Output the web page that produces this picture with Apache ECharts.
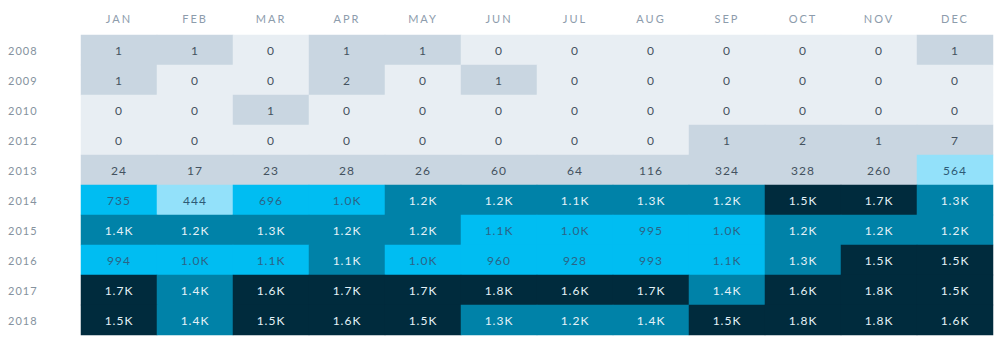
<!DOCTYPE html>
<html>
<head>
<meta charset="utf-8">
<script src="https://cdn.jsdelivr.net/npm/echarts@6/dist/echarts.min.js"></script>
<style>
  html, body { margin: 0; padding: 0; background: #ffffff; }
  #chart { width: 997px; height: 338px; }
  /* tracked lettering for all chart text */
  #chart svg text { letter-spacing: 1px; }
  #chart svg text.month { letter-spacing: 2px; }
</style>
</head>
<body>
<div id="chart"></div>
<script>
// Monthly counts per year
const months = ['JAN', 'FEB', 'MAR', 'APR', 'MAY', 'JUN', 'JUL', 'AUG', 'SEP', 'OCT', 'NOV', 'DEC'];
const years = ['2008', '2009', '2010', '2012', '2013', '2014', '2015', '2016', '2017', '2018'];

const y2008 = [1, 1, 0, 1, 1, 0, 0, 0, 0, 0, 0, 1];
const y2009 = [1, 0, 0, 2, 0, 1, 0, 0, 0, 0, 0, 0];
const y2010 = [0, 0, 1, 0, 0, 0, 0, 0, 0, 0, 0, 0];
const y2012 = [0, 0, 0, 0, 0, 0, 0, 0, 1, 2, 1, 7];
const y2013 = [24, 17, 23, 28, 26, 60, 64, 116, 324, 328, 260, 564];
const y2014 = [735, 444, 696, 1020, 1210, 1190, 1120, 1280, 1200, 1500, 1690, 1300];
const y2015 = [1400, 1180, 1290, 1220, 1190, 1070, 1010, 995, 1030, 1210, 1180, 1220];
const y2016 = [994, 1040, 1080, 1130, 1000, 960, 928, 993, 1060, 1310, 1510, 1520];
const y2017 = [1700, 1420, 1610, 1680, 1720, 1790, 1590, 1710, 1410, 1620, 1780, 1490];
const y2018 = [1480, 1380, 1520, 1580, 1510, 1290, 1210, 1390, 1460, 1810, 1770, 1600];

const rows = [y2008, y2009, y2010, y2012, y2013, y2014, y2015, y2016, y2017, y2018];

// colour bands: [min, max, cell colour, text colour]
const bands = [
  [0, 0, '#e8eef3', '#44525f'],
  [1, 399, '#c9d6e1', '#44525f'],
  [400, 599, '#93e1fa', '#2e5a75'],
  [600, 1099, '#00bdf2', '#2b6487'],
  [1100, 1449, '#0082a8', '#e4f1f7'],
  [1450, 100000, '#002b3d', '#e4f1f7']
];

function bandOf(v) {
  for (const b of bands) if (v >= b[0] && v <= b[1]) return b;
  return bands[bands.length - 1];
}

function fmt(v) {
  return v >= 1000 ? (v / 1000).toFixed(1) + 'K' : String(v);
}

const data = [];
rows.forEach((row, yi) => {
  row.forEach((v, xi) => {
    data.push({ value: [xi, yi, v], label: { color: bandOf(v)[3] } });
  });
});

const chart = echarts.init(document.getElementById('chart'), null, { renderer: 'svg' });
chart.setOption({
  animation: false,
  backgroundColor: '#ffffff',
  textStyle: { fontFamily: 'Lato' },
  grid: { left: 81, right: 4, top: 35, bottom: 3 },
  xAxis: {
    type: 'category',
    data: months,
    position: 'top',
    axisLine: { show: false },
    axisTick: { show: false },
    splitArea: { show: false },
    axisLabel: { color: '#8d9cac', fontSize: 11, fontFamily: 'Lato', margin: 11 }
  },
  yAxis: {
    type: 'category',
    data: years,
    inverse: true,
    axisLine: { show: false },
    axisTick: { show: false },
    splitArea: { show: false },
    axisLabel: { color: '#85929e', fontSize: 11, fontFamily: 'Lato', align: 'left', margin: 73 }
  },
  visualMap: {
    show: false,
    type: 'piecewise',
    dimension: 2,
    pieces: bands.map(b => ({ gte: b[0], lte: b[1], color: b[2] }))
  },
  series: [{
    type: 'heatmap',
    data: data,
    itemStyle: { borderWidth: 0 },
    label: {
      show: true,
      fontSize: 12,
      fontFamily: 'Lato',
      formatter: p => fmt(p.value[2])
    },
    emphasis: { disabled: true }
  }]
});

// wider tracking on the month labels
function tagMonths() {
  document.querySelectorAll('#chart svg text').forEach(t => {
    if (months.includes(t.textContent)) t.classList.add('month');
  });
}
tagMonths();
chart.on('finished', tagMonths);
</script>
</body>
</html>
